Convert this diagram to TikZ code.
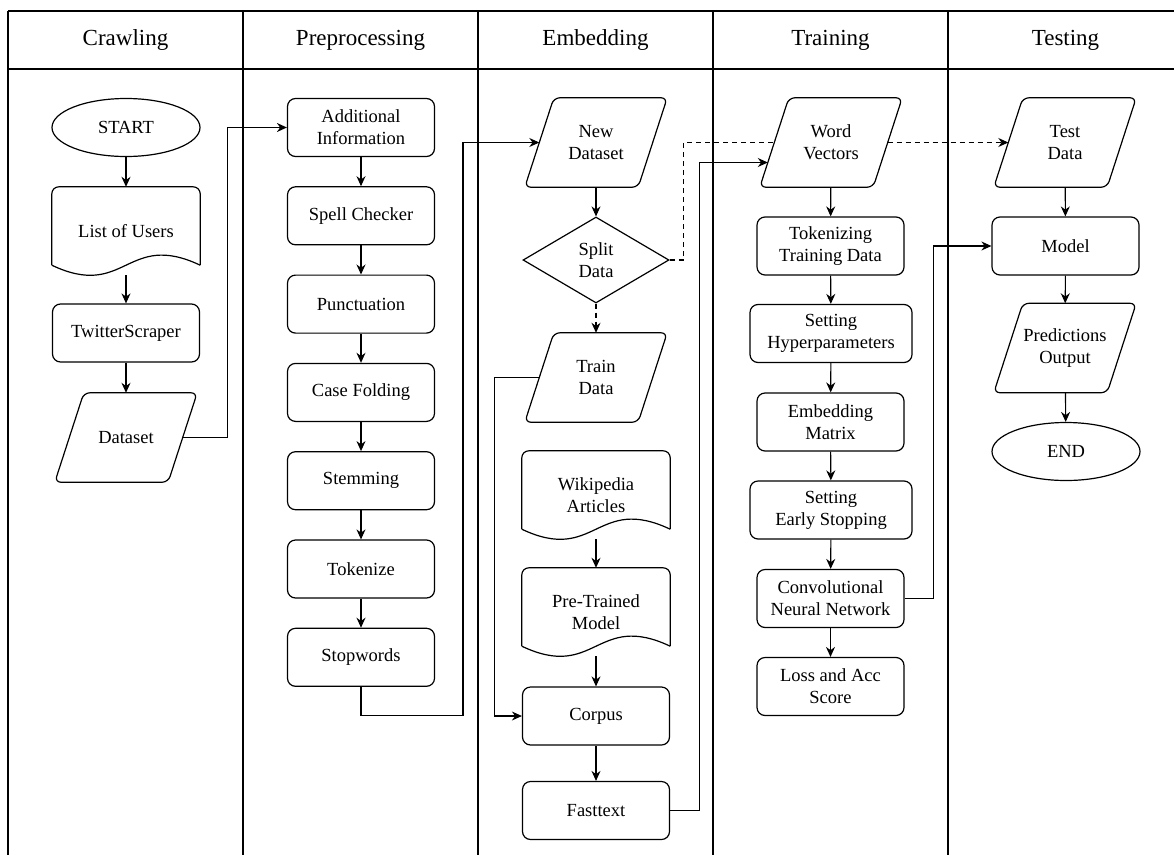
\documentclass[tikz,border=0pt]{standalone}
\usepackage{fontspec}
\setmainfont{Liberation Serif}
\usetikzlibrary{shapes.geometric, arrows.meta, calc}

\begin{document}
\begin{tikzpicture}[
        x=1pt, y=-1pt,
        >={Stealth[length=10pt, width=9pt]},
        every node/.style={font=\fontsize{18.5}{22}\selectfont, align=center},
        lanehead/.style={font=\fontsize{23}{27}\selectfont},
        process/.style={draw, line width=1.2pt, fill=white, rounded corners=8pt, minimum width=147, minimum height=58, inner sep=2pt},
        wideprocess/.style={process, minimum width=162},
        io/.style={minimum width=113, minimum height=89, inner sep=0pt},
        decision/.style={draw, line width=1.2pt, fill=white, diamond, aspect=1.7, minimum width=146, minimum height=86, inner sep=0pt},
        terminal/.style={draw, line width=1.2pt, fill=white, ellipse, minimum width=148, minimum height=58, inner sep=0pt},
        document/.style={minimum width=148, minimum height=88, inner sep=0pt},
        outline/.style={line width=1.2pt},
        flow/.style={->, line width=1.1pt},
        lane/.style={line width=1.1pt}
    ]

    \useasboundingbox (0,0) rectangle (1174,854);
    \clip (0,0) rectangle (1174,854);

    % Swimlanes
    \draw[lane] (8,11) -- (1190,11);
    \draw[lane] (8,69) -- (1190,69);
    \foreach \x in {8,243,478,713,948,1183}
        \draw[lane] (\x,11) -- (\x,870);
    \foreach \x/\t [count=\i] in {125.5/Crawling, 360.5/Preprocessing, 595.5/Embedding, 830.5/Training, 1065.5/Testing}
        \node[lanehead] (head\i) at (\x,40) {\t};

    % Crawling
    \node[terminal] (start) at (126,127.5) {START};
    \node[document] (users) at (126,231) {List of Users};
    \node[process] (scraper) at (126,333) {TwitterScraper};
    \node[io] (dataset) at (126,437.5) {Dataset};

    % Preprocessing
    \node[process] (addinfo) at (361,127.5) {Additional\\Information};
    \node[process] (spell) at (361,215.8) {Spell Checker};
    \node[process] (punct) at (361,304.1) {Punctuation};
    \node[process] (casefold) at (361,392.4) {Case Folding};
    \node[process] (stem) at (361,480.7) {Stemming};
    \node[process] (tokenize) at (361,569) {Tokenize};
    \node[process] (stopw) at (361,657.3) {Stopwords};

    % Embedding
    \node[io] (newds) at (596,142.5) {New\\Dataset};
    \node[decision] (split) at (596,260) {Split\\Data};
    \node[io] (traindata) at (596,377.5) {Train\\Data};
    \node[document] (wiki) at (596,495) {Wikipedia\\Articles};
    \node[document] (pretrained) at (596,612) {Pre-Trained\\Model};
    \node[process] (corpus) at (596,716) {Corpus};
    \node[process] (fasttext) at (596,810.5) {Fasttext};

    % Training
    \node[io] (wordvec) at (831,142.5) {Word\\Vectors};
    \node[process] (tokdata) at (830.5,246) {Tokenizing\\Training Data};
    \node[wideprocess] (hyper) at (831,333.5) {Setting\\Hyperparameters};
    \node[process] (embmat) at (830.5,422) {Embedding\\Matrix};
    \node[wideprocess] (early) at (831,510) {Setting\\Early Stopping};
    \node[process] (cnn) at (830.5,598.5) {Convolutional\\Neural Network};
    \node[process] (loss) at (830.5,686.5) {Loss and Acc\\Score};

    % Testing
    \node[io] (testdata) at (1065,142.5) {Test\\Data};
    \node[process] (model) at (1065.5,246) {Model};
    \node[io] (pred) at (1065,348) {Predictions\\Output};
    \node[terminal] (end) at (1066,451.5) {END};

    % parallelogram outlines (data)
    \foreach \p in {dataset,newds,traindata,wordvec,testdata,pred}
        \draw[outline, rounded corners=6pt] ($(\p.north west)+(14.5,0)$) -- ($(\p.north east)+(14.5,0)$) -- ($(\p.south east)+(-14.5,0)$) -- ($(\p.south west)+(-14.5,0)$) -- cycle;

    % document outlines (wavy bottom)
    \foreach \d in {users,wiki,pretrained} {
        \draw[outline, rounded corners=7pt] ($(\d.south west)+(0,-10)$) -- (\d.north west) -- (\d.north east) -- ($(\d.south east)+(0,-10)$);
        \draw[outline] ($(\d.south west)+(0,-10)$) .. controls ($(\d.south west)+(74,25)$) and ($(\d.south east)+(-74,-45)$) .. ($(\d.south east)+(0,-10)$);
    }

    % straight flows
    \foreach \a/\b in {start/users, users/scraper, scraper/dataset,
                       addinfo/spell, spell/punct, punct/casefold, casefold/stem, stem/tokenize, tokenize/stopw,
                       newds/split, wiki/pretrained, pretrained/corpus, corpus/fasttext,
                       wordvec/tokdata, tokdata/hyper, hyper/embmat, embmat/early, early/cnn, cnn/loss,
                       testdata/model, model/pred, pred/end}
        \draw[flow] (\a) -- (\b);
    \draw[flow, dash pattern=on 5pt off 4pt] (split) -- (traindata);

    % flows between lanes
    \draw[flow] (dataset.east) -- ++(45,0) |- (addinfo.west);
    \draw[flow] (stopw.south) -- ++(0,29) -- ++(102,0) |- (newds.west);
    \draw[flow] (traindata.west) -- ++(-45,0) |- (corpus.west);
    \draw[flow] (fasttext.east) -- ++(29,0) |- ($(wordvec.west)+(-6.5,20)$);
    \draw[flow] (cnn.east) -- ++(29,0) |- (model.west);

    % split to test data (dashed, behind Word Vectors)
    \draw[line width=1.1pt, dash pattern=on 5pt off 4pt] (split.east) -- ++(14,0) |- (wordvec.west);
    \draw[flow, dash pattern=on 5pt off 4pt] (wordvec.east) -- (testdata.west);

\end{tikzpicture}
\end{document}
